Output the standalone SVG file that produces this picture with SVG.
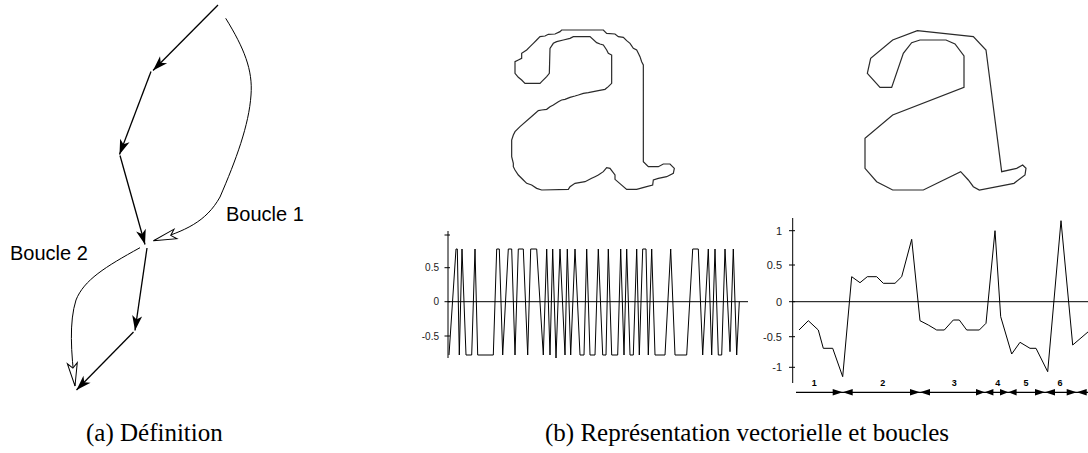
<svg xmlns="http://www.w3.org/2000/svg" width="1088" height="453" viewBox="0 0 1088 453">
<style>
.ln{fill:none;stroke:#000;stroke-width:1.3}
.thin{fill:none;stroke:#000;stroke-width:1}
.glyph{fill:none;stroke:#2a2a2a;stroke-width:3.6;stroke-linejoin:miter}
.lbl{font-family:"Liberation Sans",Arial,sans-serif;font-size:20px;fill:#000}
.tk{font-family:"Liberation Sans",Arial,sans-serif;fill:#222}
.seg{font-family:"Liberation Sans",Arial,sans-serif;font-size:9px;font-weight:bold;fill:#000;text-anchor:middle}
.cap{font-family:"Liberation Serif","Times New Roman",serif;font-size:25px;fill:#000}
</style>
<defs>
<marker id="ah" markerUnits="userSpaceOnUse" orient="auto" overflow="visible" markerWidth="1" markerHeight="1" refX="0" refY="0">
<path d="M0,0 L-15,-5 L-11,0 L-15,5 Z" fill="#000"/>
</marker>
<marker id="oh" markerUnits="userSpaceOnUse" orient="auto" overflow="visible" markerWidth="1" markerHeight="1" refX="0" refY="0">
<path d="M0,0 L-23,-5 L-18,0 L-23,5 Z" fill="#fff" stroke="#000" stroke-width="1"/>
</marker>
</defs>

<g id="connectors">
<line class="ln" x1="218" y1="5" x2="153" y2="70.5" marker-end="url(#ah)"/>
<line class="ln" x1="151" y1="71.5" x2="119.5" y2="154.5" marker-end="url(#ah)"/>
<line class="ln" x1="120" y1="155.5" x2="145" y2="244.5" marker-end="url(#ah)"/>
<line class="ln" x1="147" y1="248" x2="135" y2="330.5" marker-end="url(#ah)"/>
<line class="ln" x1="133.5" y1="332" x2="76.5" y2="390" marker-end="url(#ah)"/>
<path id="boucle1" class="thin" d="M225.7,18.3 C244,48 253,70 251,95 C249,125 236,160 220,197 C206,222 185,231 153.5,240.7" marker-end="url(#oh)"/>
<path id="boucle2" class="thin" d="M140,247.7 C105,267 84,280 76,300 C69,322 71,352 75,386" marker-end="url(#oh)"/>
</g>

<g id="label-boucle1"><text class="lbl" x="226" y="221">Boucle 1</text></g>
<g id="label-boucle2"><text class="lbl" x="10" y="260">Boucle 2</text></g>

<g id="glyph-a-raw" transform="translate(490,20) scale(0.33333)">
<polygon class="glyph" points="215,30 340,30 350,40 375,42 385,50 400,52 410,62 420,70 430,85 440,90 445,100 450,110 455,125 460,135 460,425 475,440 505,440 520,432 540,432 553,445 550,460 530,470 505,475 490,480 488,495 470,500 440,508 410,508 375,478 375,465 360,445 350,443 340,455 325,465 315,470 305,475 295,480 285,485 255,490 240,500 235,508 155,510 140,505 125,495 110,490 100,480 85,465 75,450 70,440 70,430 65,410 65,360 70,345 75,335 90,320 130,285 145,272 155,270 170,268 180,260 190,255 205,245 215,240 225,238 240,232 255,228 265,225 280,220 295,218 310,215 325,212 345,208 355,200 365,190 365,105 355,100 350,90 340,75 330,72 320,68 300,50 250,50 240,55 220,60 200,65 190,70 180,85 178,160 170,170 155,185 150,190 105,190 95,180 85,172 75,160 75,125 85,120 95,115 95,100 110,90 120,80 130,70 140,60 150,50 165,48 175,43 195,42 210,35"/>
</g>

<g id="glyph-a-vector" transform="translate(840,20) scale(0.33333)">
<polygon class="glyph" points="232,32 400,50 438,90 485,455 530,445 548,435 558,445 555,465 522,490 418,510 400,500 385,480 362,455 250,510 158,510 110,485 75,445 75,355 158,285 372,202 372,108 345,72 318,60 240,60 215,68 190,100 155,202 120,202 82,160 92,115 158,60"/>
</g>

<g id="plot-raw">
<line class="thin" x1="448" y1="231" x2="448" y2="358"/>
<line class="thin" x1="448" y1="301.7" x2="748" y2="301.7"/>
<g class="thin">
<line x1="444.5" y1="235" x2="450" y2="235"/>
<line x1="444.5" y1="267.7" x2="450" y2="267.7"/>
<line x1="444.5" y1="301.7" x2="450" y2="301.7"/>
<line x1="444.5" y1="336" x2="450" y2="336"/>
</g>
<g class="tk" font-size="10" text-anchor="end">
<text x="439" y="271.3">0.5</text>
<text x="439" y="305.3">0</text>
<text x="439" y="339.6">-0.5</text>
</g>
<polyline class="thin" points="449,355 456,249 457.3,249 459.3,355 462,249 466,355 471.7,355 475,249 477.7,355 493.3,355 496.7,249 499.3,249 502.7,355 508.3,249 511.7,249 515,355 518.3,249 523.3,249 527.7,355 530.7,249 536.7,249 543.3,355 546.7,249 550,355 552.7,249 556,358 560,249 565,355 567.3,249 570.7,355 575,249 580,355 584,355 586.7,249 590,355 595,355 598.3,249 602.7,355 606,355 608.3,249 611.7,355 617.7,355 620.7,249 624,355 626.7,249 630,355 633.3,355 636.7,249 639.3,355 642.7,249 646,249 648.3,355 651.7,249 655,355 665,355 670.7,249 675,355 686.7,355 692.7,249 698.3,249 702.7,355 708.3,249 711.7,355 715,249 718.3,355 721.7,355 725,249 730,351.7 733.3,249 736.7,355 739.3,301.7"/>
</g>

<g id="plot-vector">
<line class="thin" x1="792.7" y1="218" x2="792.7" y2="383"/>
<line class="thin" x1="792.7" y1="301.7" x2="1088" y2="301.7"/>
<g class="thin">
<line x1="789" y1="230.7" x2="795" y2="230.7"/>
<line x1="789" y1="265" x2="795" y2="265"/>
<line x1="789" y1="301.7" x2="795" y2="301.7"/>
<line x1="789" y1="336.7" x2="795" y2="336.7"/>
<line x1="789" y1="367.3" x2="795" y2="367.3"/>
</g>
<g class="tk" font-size="11" text-anchor="end">
<text x="782" y="234.6">1</text>
<text x="782" y="268.9">0.5</text>
<text x="782" y="305.6">0</text>
<text x="782" y="340.6">-0.5</text>
<text x="782" y="371.2">-1</text>
</g>
<polyline class="thin" points="799,330 808.3,320.7 818.3,330 823.3,348.3 832.7,348.3 842.7,376.7 851.7,276.7 860,282.7 867.3,276.7 876.7,276.7 883.3,283.3 895,283.3 901.7,276.7 911.7,239.3 920,320.7 928.3,325 936.7,330 944.3,330 953.3,320 959.3,320 966.7,330 979.3,330 986,323.3 995,230.7 1000.7,316.7 1011.7,354 1020,342.3 1030,348.3 1036,348.3 1047.7,371.7 1061,220.7 1072.7,345 1088.5,331.5"/>
</g>

<g id="segments">
<line class="ln" x1="796" y1="392.3" x2="1088" y2="392.3"/>
<g fill="#000">
<path d="M832.7,389 L842.7,392.3 L832.7,395.6 Z M852.7,389 L842.7,392.3 L852.7,395.6 Z"/>
<path d="M910,389 L920,392.3 L910,395.6 Z M930,389 L920,392.3 L930,395.6 Z"/>
<path d="M976,389 L984.7,392.3 L976,395.6 Z M993.4,389 L984.7,392.3 L993.4,395.6 Z"/>
<path d="M1000,389 L1008.3,392.3 L1000,395.6 Z M1016.6,389 L1008.3,392.3 L1016.6,395.6 Z"/>
<path d="M1035,389 L1045,392.3 L1035,395.6 Z M1055,389 L1045,392.3 L1055,395.6 Z"/>
<path d="M1066.7,389 L1076.7,392.3 L1066.7,395.6 Z M1086.7,389 L1076.7,392.3 L1086.7,395.6 Z"/>
</g>
<text class="seg" x="814.3" y="386">1</text>
<text class="seg" x="882.7" y="386">2</text>
<text class="seg" x="954.3" y="386">3</text>
<text class="seg" x="997.7" y="386">4</text>
<text class="seg" x="1026" y="386">5</text>
<text class="seg" x="1060" y="386">6</text>
</g>

<g id="captions">
<text class="cap" x="86" y="441">(a) Définition</text>
<text class="cap" x="545" y="441">(b) Représentation vectorielle et boucles</text>
</g>
</svg>
